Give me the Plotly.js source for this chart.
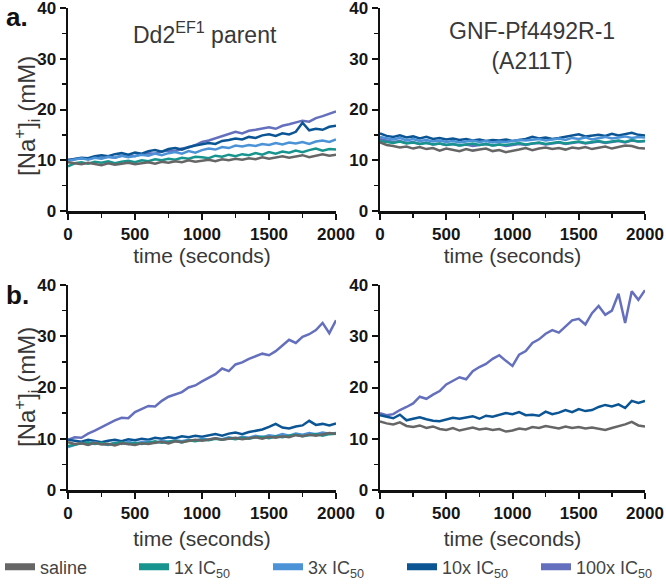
<!DOCTYPE html>
<html>
<head>
<meta charset="utf-8">
<script src="https://cdn.plot.ly/plotly-3.0.1.min.js"></script>
<style>html,body{margin:0;padding:0;background:#fff;}#chart{width:666px;height:584px;}</style>
</head>
<body>
<div id="chart"></div>
<script>
// Time points (seconds)
const time = [0,50,100,150,200,250,300,350,400,450,500,550,600,650,700,750,800,850,900,950,1000,1050,1100,1150,1200,1250,1300,1350,1400,1450,1500,1550,1600,1650,1700,1750,1800,1850,1900,1950,2000];

const seriesNames = ["saline", "1x IC<sub>50</sub>", "3x IC<sub>50</sub>", "10x IC<sub>50</sub>", "100x IC<sub>50</sub>"];
const seriesKeys = ["saline", "x1", "x3", "x10", "x100"];

// Panel a, left: Dd2EF1 parent
const aLeft_saline = [9.6,9.4,9.2,9.5,9.3,9.0,9.4,9.1,9.3,9.5,9.2,9.4,9.6,9.3,9.7,9.5,9.8,9.6,10.0,9.7,9.9,10.1,9.8,10.2,10.0,10.3,10.1,10.4,10.2,10.6,10.3,10.5,10.8,10.5,10.7,11.0,10.6,10.9,11.2,10.9,11.1];
const aLeft_x1 = [8.8,9.4,9.6,9.3,9.7,9.5,9.8,9.4,9.7,9.9,9.6,10.0,9.8,10.2,10.0,10.3,10.1,10.5,10.3,10.7,10.6,10.4,10.9,10.7,11.1,10.8,11.2,11.0,11.4,11.1,11.6,11.3,11.7,11.5,11.9,11.6,12.0,12.3,11.9,12.2,12.1];
const aLeft_x3 = [9.9,10.2,10.4,10.1,10.5,10.3,10.7,10.5,10.9,10.6,10.8,11.1,10.9,11.3,11.0,11.4,11.6,11.3,11.8,11.5,12.0,12.3,12.1,12.6,12.4,12.9,12.7,13.0,12.8,13.2,13.0,13.4,13.1,13.5,13.3,13.6,13.2,13.7,13.9,13.6,14.1];
const aLeft_x10 = [10.0,10.3,10.5,10.4,10.8,11.0,10.8,11.2,11.4,11.1,11.5,11.3,11.8,12.0,11.7,12.2,12.4,12.1,12.6,12.9,13.1,13.4,13.2,13.8,14.0,14.3,14.1,14.6,14.4,14.9,15.1,14.8,15.3,15.1,15.6,17.4,15.9,16.2,16.0,16.6,16.8];
const aLeft_x100 = [10.1,10.2,10.4,10.3,10.6,10.4,10.7,10.5,10.9,11.0,10.8,11.2,11.4,11.3,11.7,11.9,11.8,12.3,12.5,13.0,13.6,13.9,14.3,14.8,15.2,15.6,15.3,15.8,16.0,16.3,16.5,16.2,16.8,17.1,17.5,17.8,17.6,18.3,18.7,19.1,19.6];

// Panel a, right: GNF-Pf4492R-1 (A211T)
const aRight_saline = [13.5,13.0,12.8,12.5,12.7,12.3,12.6,12.2,12.4,11.9,12.3,12.0,11.8,12.2,11.9,12.1,12.3,11.8,12.0,11.6,11.8,12.1,12.4,12.0,12.3,12.5,12.2,12.4,12.1,12.5,12.3,12.6,12.2,12.4,12.7,12.3,12.6,12.9,12.8,12.4,12.3];
const aRight_x1 = [13.8,13.6,13.4,13.7,13.3,13.5,13.2,13.4,13.1,13.3,13.0,13.2,12.9,13.1,13.3,13.0,13.2,12.9,13.1,13.0,13.2,13.4,13.1,13.3,13.5,13.2,13.4,13.6,13.3,13.5,13.7,13.4,13.6,13.8,13.5,13.7,13.9,13.6,14.0,13.7,13.8];
const aRight_x3 = [14.6,14.3,14.1,14.4,13.9,14.2,13.8,14.0,13.7,13.9,13.6,13.8,13.5,13.7,13.9,13.6,13.8,13.5,13.7,13.6,13.8,14.0,13.9,14.1,14.2,13.9,14.1,14.3,14.0,14.4,14.2,14.5,14.1,14.4,14.6,14.3,14.5,14.7,14.4,14.6,14.5];
const aRight_x10 = [15.3,14.8,14.6,14.9,14.5,14.7,14.3,14.6,14.2,14.4,14.1,14.3,14.0,14.2,13.9,14.1,13.8,14.0,13.9,14.1,13.8,14.0,14.2,14.6,14.3,14.5,14.2,14.4,14.6,14.8,15.1,14.7,14.9,15.0,14.8,15.2,14.9,15.1,15.4,15.0,14.9];
const aRight_x100 = [14.2,13.9,13.6,13.8,13.4,13.6,13.2,13.5,13.1,13.3,13.0,13.2,12.9,13.1,12.8,13.0,13.2,12.9,13.1,12.8,13.0,13.2,13.0,13.3,13.4,13.1,13.3,13.5,13.2,13.4,13.6,13.3,13.5,13.7,13.4,13.6,13.8,13.5,13.9,13.7,13.8];

// Panel b, left: Dd2EF1 parent
const bLeft_saline = [9.3,9.0,9.1,8.8,9.2,8.9,9.0,8.7,9.1,8.9,8.8,9.1,9.0,9.2,9.4,9.1,9.5,9.3,9.6,9.8,9.6,9.9,10.1,9.8,10.0,10.2,9.9,10.1,10.3,10.0,10.4,10.2,10.5,10.3,10.7,10.5,10.8,10.6,10.9,11.1,11.0];
const bLeft_x1 = [8.6,8.9,9.1,9.3,9.0,9.2,8.9,9.1,9.3,9.0,9.2,9.0,9.3,9.5,9.2,9.4,9.6,9.3,9.7,9.5,9.8,9.7,10.0,9.8,10.1,9.9,10.2,10.0,10.3,10.4,10.1,10.5,10.3,10.6,10.8,10.5,10.7,10.9,10.6,10.9,11.0];
const bLeft_x3 = [8.4,8.8,9.2,8.9,9.3,9.0,8.8,9.2,9.0,9.4,9.1,9.3,9.5,9.2,9.6,9.4,9.7,9.5,9.8,9.6,10.0,9.8,10.1,9.9,10.3,10.0,10.4,10.2,10.6,10.3,10.7,10.5,10.9,10.6,11.0,10.8,11.1,10.9,11.2,11.0,11.1];
const bLeft_x10 = [9.8,9.6,9.4,9.8,9.5,9.3,9.6,9.8,9.5,9.9,9.7,10.0,9.8,10.2,10.0,10.3,10.1,10.5,10.3,10.6,10.4,10.7,10.9,10.6,11.0,11.2,10.9,11.3,11.5,11.8,12.3,12.9,12.2,12.0,12.4,12.6,13.5,12.7,12.9,12.6,13.0];
const bLeft_x100 = [9.8,10.3,10.2,11.0,11.6,12.3,12.9,13.6,14.1,14.0,15.2,15.8,16.4,16.3,17.4,18.2,18.6,19.1,20.0,20.4,21.2,21.9,22.6,23.7,23.2,24.5,24.9,25.6,26.1,26.6,26.3,27.1,28.2,29.3,28.7,29.9,30.4,31.2,32.6,30.6,33.1];

// Panel b, right: GNF-Pf4492R-1 (A211T)
const bRight_saline = [13.4,13.0,12.8,13.2,12.5,12.3,12.6,12.1,12.4,11.9,11.7,12.1,11.6,11.9,12.2,11.8,12.0,11.7,11.9,11.4,11.6,12.0,11.8,12.3,12.1,12.5,12.2,12.0,12.4,12.1,12.3,12.0,12.2,11.9,11.7,12.1,12.4,12.8,13.3,12.6,12.4];
const bRight_x10 = [14.6,14.3,14.0,14.7,13.6,13.9,14.2,13.8,13.5,13.4,13.8,14.1,13.9,14.2,14.4,13.9,14.5,14.3,14.7,15.0,14.8,15.2,14.6,14.7,14.5,15.3,14.8,15.1,15.6,15.2,15.8,15.4,15.6,16.2,16.6,16.3,16.7,16.0,17.4,17.0,17.4];
const bRight_x100 = [15.0,14.6,14.8,15.6,16.2,16.9,18.2,17.8,18.6,19.3,20.6,21.3,22.0,21.6,23.2,24.0,24.6,25.6,26.3,25.2,24.2,26.4,27.1,28.7,29.4,30.5,31.2,30.7,32.0,33.1,33.4,32.3,34.5,35.9,34.2,35.0,38.3,32.6,38.8,37.1,39.0];

// Tick spacing
const xTickStep = 500, xMinorStep = 250;
const yTickStep = 10, yMinorStep = 5;

const colors = {saline:"#666666", x1:"#17948e", x3:"#4b93d6", x10:"#0b5595", x100:"#6470bd"};

const panels = [
  {xa:"x",  ya:"y",  data:{x100:aLeft_x100, x10:aLeft_x10, x3:aLeft_x3, x1:aLeft_x1, saline:aLeft_saline}},
  {xa:"x2", ya:"y2", data:{x100:aRight_x100, x10:aRight_x10, x3:aRight_x3, x1:aRight_x1, saline:aRight_saline}},
  {xa:"x3", ya:"y3", data:{x100:bLeft_x100, x10:bLeft_x10, x3:bLeft_x3, x1:bLeft_x1, saline:bLeft_saline}},
  {xa:"x4", ya:"y4", data:{x100:bRight_x100, x10:bRight_x10, saline:bRight_saline}}
];

const traces = [];
panels.forEach(p => {
  ["x100","x10","x3","x1","saline"].forEach(k => {
    if (!p.data[k]) return;
    traces.push({
      type:"scatter", mode:"lines", x:time, y:p.data[k],
      xaxis:p.xa, yaxis:p.ya, showlegend:false, hoverinfo:"skip",
      line:{color:colors[k], width:2.5}
    });
  });
});
// legend entries
seriesKeys.forEach((k,i) => {
  traces.push({
    type:"scatter", mode:"lines", x:[null], y:[null], name:seriesNames[i],
    xaxis:"x", yaxis:"y", showlegend:true, line:{color:colors[k], width:7}
  });
});

const FONT = "Arial, 'Liberation Sans', sans-serif";
const Y_TITLE = "[Na<sup>+</sup>]<sub>i</sub> (mM)";
function xAxis(dom, anchor, standoff){
  return {domain:dom, anchor:anchor, range:[0,2000], tickmode:"linear", tick0:0, dtick:xTickStep,
    showline:true, linecolor:"#111", linewidth:2.5, ticks:"outside", ticklen:6, tickwidth:2, tickcolor:"#111",
    minor:{ticks:"outside", ticklen:4, tickwidth:1.5, tickcolor:"#111", tick0:0, dtick:xMinorStep, showgrid:false},
    showgrid:false, zeroline:false, fixedrange:true, ticklabeloverflow:"allow",
    tickfont:{family:FONT, size:17, color:"#151515", weight:"bold"},
    title:{text:"time (seconds)", font:{family:FONT, size:21, color:"#383838"}, standoff:standoff}};
}
function yAxis(dom, anchor){
  return {domain:dom, anchor:anchor, range:[0,40], tickmode:"linear", tick0:0, dtick:yTickStep,
    showline:true, linecolor:"#111", linewidth:2.5, ticks:"outside", ticklen:6, tickwidth:2, tickcolor:"#111",
    minor:{ticks:"outside", ticklen:4, tickwidth:1.5, tickcolor:"#111", tick0:0, dtick:yMinorStep, showgrid:false},
    showgrid:false, zeroline:false, fixedrange:true, ticklabeloverflow:"allow",
    tickfont:{family:FONT, size:17, color:"#151515", weight:"bold"}};
}
const W = 666, H = 584;
const dxL = [68/W, 336/W], dxR = [380/W, 645/W];
const dyT = [1-211/H, 1-8/H], dyB = [1-490/H, 1-285/H];

const layout = {
  width:W, height:H, margin:{l:0, r:0, t:0, b:0, autoexpand:false},
  paper_bgcolor:"#fff", plot_bgcolor:"rgba(0,0,0,0)",
  font:{family:FONT, color:"#333"},
  xaxis:xAxis(dxL,"y",0), yaxis:yAxis(dyT,"x"),
  xaxis2:xAxis(dxR,"y2",0), yaxis2:yAxis(dyT,"x2"),
  xaxis3:xAxis(dxL,"y3",10), yaxis3:yAxis(dyB,"x3"),
  xaxis4:xAxis(dxR,"y4",10), yaxis4:yAxis(dyB,"x4"),
  showlegend:true,
  legend:{orientation:"h", x:0, xanchor:"left", y:1-567/H, yanchor:"middle",
    font:{family:FONT, size:18, color:"#444"}, entrywidth:89, entrywidthmode:"pixels",
    itemwidth:30, bgcolor:"rgba(0,0,0,0)", borderwidth:0},
  annotations:[
    {text:"<b>a.</b>", xref:"paper", yref:"paper", x:4/W, y:1, xanchor:"left", yanchor:"top", showarrow:false, font:{family:FONT, size:26, color:"#111"}},
    {text:"<b>b.</b>", xref:"paper", yref:"paper", x:4/W, y:1-278/H, xanchor:"left", yanchor:"top", showarrow:false, font:{family:FONT, size:26, color:"#111"}},
    {text:"Dd2<sup>EF1</sup> parent", xref:"paper", yref:"paper", x:205/W, y:1-33/H, xanchor:"center", yanchor:"middle", showarrow:false, font:{family:FONT, size:23, color:"#383838"}},
    {text:"GNF-Pf4492R-1<br>(A211T)", xref:"paper", yref:"paper", x:532/W, y:1-46/H, xanchor:"center", yanchor:"middle", showarrow:false, font:{family:FONT, size:23, color:"#383838"}},
    {text:Y_TITLE, textangle:-90, xref:"paper", yref:"paper", x:27/W, y:1-116/H, xanchor:"center", yanchor:"middle", showarrow:false, font:{family:FONT, size:24, color:"#383838"}},
    {text:Y_TITLE, textangle:-90, xref:"paper", yref:"paper", x:27/W, y:1-387/H, xanchor:"center", yanchor:"middle", showarrow:false, font:{family:FONT, size:24, color:"#383838"}}
  ]
};

Plotly.newPlot("chart", traces, layout, {displayModeBar:false, staticPlot:true});
</script>
</body>
</html>
